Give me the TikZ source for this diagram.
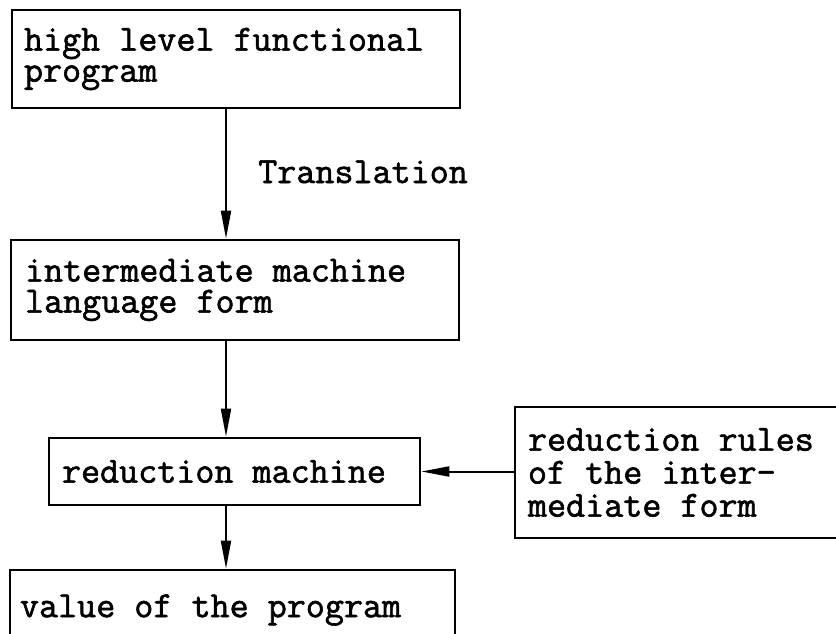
\documentclass[tikz,border=0pt]{standalone}
\usepackage{fontspec}
\usetikzlibrary{arrows.meta}
% heavy typewriter face for all labels
\newfontfamily\typewriter{lmmono12-regular.otf}[FakeBold=1.6]
\newcommand{\boxfont}[1]{\fontsize{37}{#1}\selectfont\typewriter}
% one full character cell
\newcommand{\gap}{\hphantom{x}}
\begin{document}
\begin{tikzpicture}[x=1pt,y=-1pt,
  box/.style={draw, line width=2.6pt, rectangle, inner xsep=0pt, inner ysep=0pt,
              align=left, font=\boxfont{31}},
  flow/.style={line width=2pt, -{Triangle[length=28pt,width=10pt]}},
  lbl/.style={font=\boxfont{31}, inner sep=0pt}]
\useasboundingbox (0,0) rectangle (836,634);

% processing stages
\node[box, minimum width=448pt, minimum height=98pt, text width=424pt]
  (hl) at (236,59) {high\gap level\gap functional\\program};
\node[box, minimum width=448pt, minimum height=100pt, text width=420pt]
  (im) at (235,290) {intermediate\gap machine\\language\gap form};
\node[box, minimum width=371pt, minimum height=67pt, text width=345pt]
  (rm) at (234.5,471.5) {reduction\gap machine};
\node[box, minimum width=445pt, minimum height=80pt, text width=425pt]
  (vp) at (232.5,610) {value\gap of\gap the\gap program};

% rule set feeding the machine
\node[box, font=\boxfont{33},
      minimum width=345pt, minimum height=131pt, text width=319pt]
  (rr) at (687.5,472.5) {reduction\gap rules\\of\gap the\gap inter-\\mediate\gap form};

% connectors
\coordinate (axis) at (226,0);
\draw[flow] (hl.south -| axis) -- (im.north -| axis);
\draw[flow] (im.south -| axis) -- (rm.north -| axis);
\draw[flow] (rm.south -| axis) -- (vp.north -| axis);
\draw[flow] (rr.west |- rm.east) -- (rm.east);

\node[lbl, anchor=base west] (tr) at (258,183) {Translation};
\end{tikzpicture}
\end{document}
